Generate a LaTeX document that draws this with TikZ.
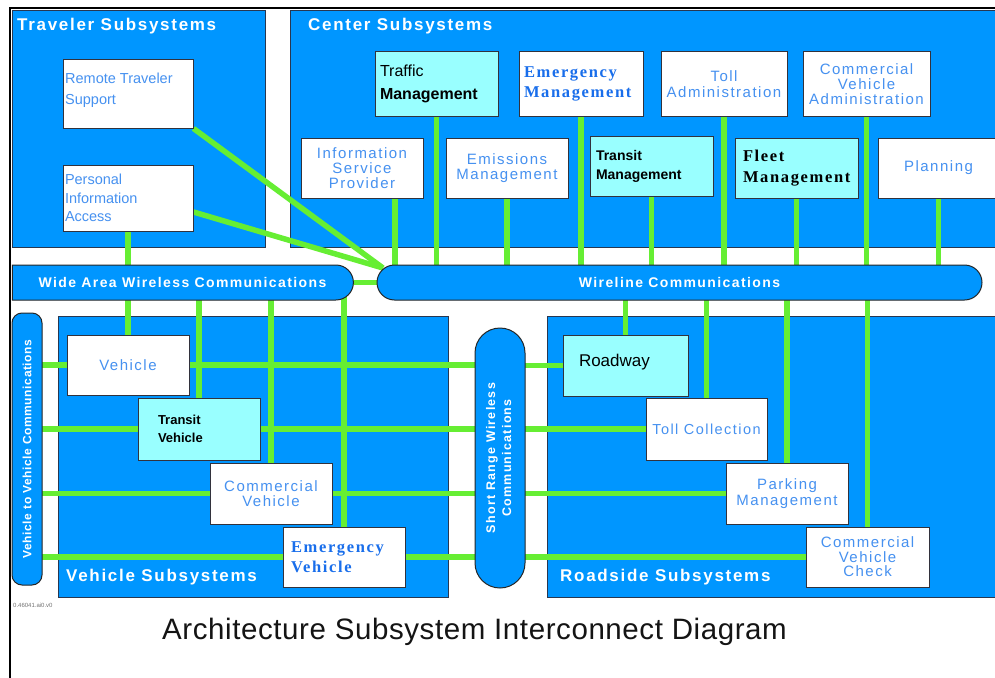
\documentclass[tikz,border=0pt]{standalone}
\usepackage{fontspec}
\setmainfont{Liberation Sans}
\newfontfamily\spaced{Liberation Sans}[LetterSpace=10]
\newfontfamily\plainsans{Liberation Sans}
\newfontfamily\seriftext{Liberation Serif}[LetterSpace=10]
\newfontfamily\capsans{Liberation Sans}[LetterSpace=10]
\newfontfamily\sidesans{Liberation Sans}[LetterSpace=5]
\newfontfamily\titlesans{Liberation Sans}[LetterSpace=2]
\usetikzlibrary{shapes.misc}

\definecolor{sysblue}{RGB}{0,150,255}
\definecolor{linkgreen}{RGB}{102,238,51}
\definecolor{cyanfill}{RGB}{153,255,255}
\definecolor{txtblue}{RGB}{70,145,240}
\definecolor{serifblue}{RGB}{25,110,235}
\definecolor{boxline}{RGB}{50,50,60}
\definecolor{regionline}{RGB}{40,55,80}

\pgfdeclarelayer{regions}
\pgfdeclarelayer{links}
\pgfsetlayers{regions,links,main}

\tikzset{
  regionfill/.style={fill=sysblue, draw=regionline, line width=0.8pt},
  regionlabel/.style={anchor=west, inner sep=0pt, text=white,
    font={\capsans\bfseries\fontsize{17}{17}\selectfont}},
  boxsize/.style 2 args={minimum width=#1, minimum height=#2},
  sysbox/.style={draw=boxline, line width=1pt, fill=white, inner sep=0pt,
    align=center, text=txtblue, font={\spaced\fontsize{15}{15}\selectfont}},
  cysbox/.style={sysbox, fill=cyanfill, text=black},
  leftbox/.style 2 args={align=left, text width=#1, inner xsep=#2},
  capsulefill/.style={fill=sysblue, draw=black!85, line width=1pt, text=white,
    inner sep=0pt, font={\capsans\bfseries\fontsize{14}{14}\selectfont}},
  linkline/.style={draw=linkgreen, line width=5.5pt},
}

\begin{document}
\begin{tikzpicture}[x=1pt, y=-1pt]
\useasboundingbox (0,0) rectangle (995,677);

% subsystem areas
\begin{pgfonlayer}{regions}
  \fill[white] (0,0) rectangle (995,677);
  \path[regionfill] (12,10) rectangle (265,247);
  \path[regionfill] (290,10) rectangle (999,247);
  \path[regionfill] (58,316) rectangle (448,597);
  \path[regionfill] (547,316) rectangle (999,597);
\end{pgfonlayer}
\draw[line width=2.5pt] (10,680) -- (10,8) -- (999,8);

\node[regionlabel] (lbltrav) at (17,26) {Traveler Subsystems};
\node[regionlabel] (lblcent) at (308,26) {Center Subsystems};
\node[regionlabel] (lblveh) at (66,577) {Vehicle Subsystems};
\node[regionlabel] (lblroad) at (560,577) {Roadside Subsystems};

% traveler subsystems
\node[sysbox, boxsize={130}{68}] (rts) at (128,94) {};
\node[anchor=north west, inner sep=0pt, align=left, text=txtblue,
  font={\plainsans\fontsize{14.5}{21}\selectfont}] (rtstext) at (65,72.5)
  {Remote Traveler\\Support};
\node[sysbox, boxsize={130}{66}, leftbox={126}{2},
  font={\plainsans\fontsize{14.5}{18.5}\selectfont}] (pia) at (128,198)
  {Personal\\Information\\Access};

% center subsystems, upper row
\node[cysbox, boxsize={123}{64}, leftbox={113}{5},
  font={\plainsans\fontsize{16}{23}\selectfont}] (tm) at (436.5,84)
  {Traffic\\\textbf{Management}};
\node[sysbox, boxsize={124}{64}, leftbox={114}{5}, text=serifblue,
  font={\seriftext\bfseries\fontsize{16.5}{20}\selectfont}] (em) at (581,84)
  {Emergency\\Management};
\node[sysbox, boxsize={126}{64}, font={\spaced\fontsize{15}{16}\selectfont}] (ta) at (724,84)
  {Toll\\Administration};
\node[sysbox, boxsize={127}{64}] (cva) at (866.5,84)
  {Commercial\\Vehicle\\Administration};

% center subsystems, lower row
\node[sysbox, boxsize={122}{60}] (isp) at (362,168) {Information\\Service\\Provider};
\node[sysbox, boxsize={122}{60}] (emi) at (507,168) {Emissions\\Management};
\node[cysbox, boxsize={123}{60}, leftbox={111}{6},
  font={\plainsans\bfseries\fontsize{14}{19}\selectfont}] (trm) at (651.5,166)
  {Transit\\Management};
\node[cysbox, boxsize={123}{60}, leftbox={107}{8},
  font={\seriftext\bfseries\fontsize{16.5}{21}\selectfont}] (fm) at (796.5,168)
  {Fleet\\Management};
\node[sysbox, boxsize={121}{60}] (pl) at (938.5,168) {Planning};

% communications
\node[capsulefill, rounded rectangle, rounded rectangle west arc=none,
  boxsize={341}{35}] (wa) at (182.5,282.5) {Wide Area Wireless Communications};
\node[capsulefill, rounded rectangle, boxsize={605}{35}] (wl) at (679.5,282.5)
  {Wireline Communications\hspace{12pt}};
\node[capsulefill, rectangle, rounded corners=10pt, boxsize={30}{272},
  font={\sidesans\bfseries\fontsize{12}{12}\selectfont}] (v2v) at (27,449)
  {\rotatebox{90}{Vehicle to Vehicle Communications}};
\node[capsulefill, rectangle, rounded corners=25pt, boxsize={50}{260},
  font={\capsans\bfseries\fontsize{12.5}{16}\selectfont}] (sr) at (500,458)
  {\rotatebox{90}{\begin{tabular}{@{}c@{}}Short Range Wireless\\Communications\end{tabular}}};

% vehicle subsystems
\node[sysbox, boxsize={122}{60}] (veh) at (128,365) {Vehicle};
\node[cysbox, boxsize={122}{62}, leftbox={82}{20},
  font={\plainsans\bfseries\fontsize{13}{18}\selectfont}] (tv) at (199,429)
  {Transit\\Vehicle};
\node[sysbox, boxsize={122}{61}] (cv) at (271,493.5) {Commercial\\Vehicle};
\node[sysbox, boxsize={122}{60}, leftbox={106}{8}, text=serifblue,
  font={\seriftext\bfseries\fontsize{16.5}{20}\selectfont}] (ev) at (344,557)
  {Emergency\\Vehicle};

% roadside subsystems
\node[cysbox, boxsize={125}{61}, leftbox={93}{16},
  font={\plainsans\fontsize{17}{17}\selectfont}] (road) at (625.5,365.5)
  {Roadway\\[-7pt]\mbox{}};
\node[sysbox, boxsize={121}{62}, font={\spaced\fontsize{14.5}{15}\selectfont}] (tc) at (706.5,429)
  {Toll Collection};
\node[sysbox, boxsize={122}{61}, font={\spaced\fontsize{15}{16}\selectfont}] (pm) at (787,493.5)
  {Parking\\Management};
\node[sysbox, boxsize={123}{60}, font={\spaced\fontsize{15}{14.5}\selectfont}] (cvc) at (867.5,557)
  {Commercial\\Vehicle\\Check};

% interconnects
\coordinate (ispport) at ([xshift=33pt]isp.center);
\coordinate (wljoin) at (383,268);
\begin{pgfonlayer}{links}
  \draw[linkline] (rts.south east) -- (wljoin);
  \draw[linkline] ([yshift=-14pt]pia.east) -- (wljoin);
  \draw[linkline] (pia.center) -- (pia.center |- wa.center);
  \draw[linkline] (wa.center) -- (wl.center);
  \foreach \b in {tm,em,ta,cva,emi,trm,fm,pl}
    \draw[linkline] (\b.center) -- (\b.center |- wl.center);
  \draw[linkline] (ispport) -- (ispport |- wl.center);
  \foreach \b in {veh,tv,cv,ev}{
    \draw[linkline] (\b.center) -- (\b.center |- wa.center);
    \draw[linkline] (v2v.center |- \b.center) -- (sr.center |- \b.center);
  }
  \foreach \b in {road,tc,pm,cvc}{
    \draw[linkline] (\b.center) -- (\b.center |- wl.center);
    \draw[linkline] (sr.center |- \b.center) -- (\b.center);
  }
\end{pgfonlayer}

\node[anchor=west, inner sep=0pt, text=black!55, font={\plainsans\fontsize{6}{6}\selectfont}]
  (code) at (13,605) {0.46041.ai0.v0};
\node[inner sep=0pt, text=black!92, font={\titlesans\fontsize{29.5}{30}\selectfont}]
  (title) at (474.5,632) {Architecture Subsystem Interconnect Diagram};
\end{tikzpicture}
\end{document}
